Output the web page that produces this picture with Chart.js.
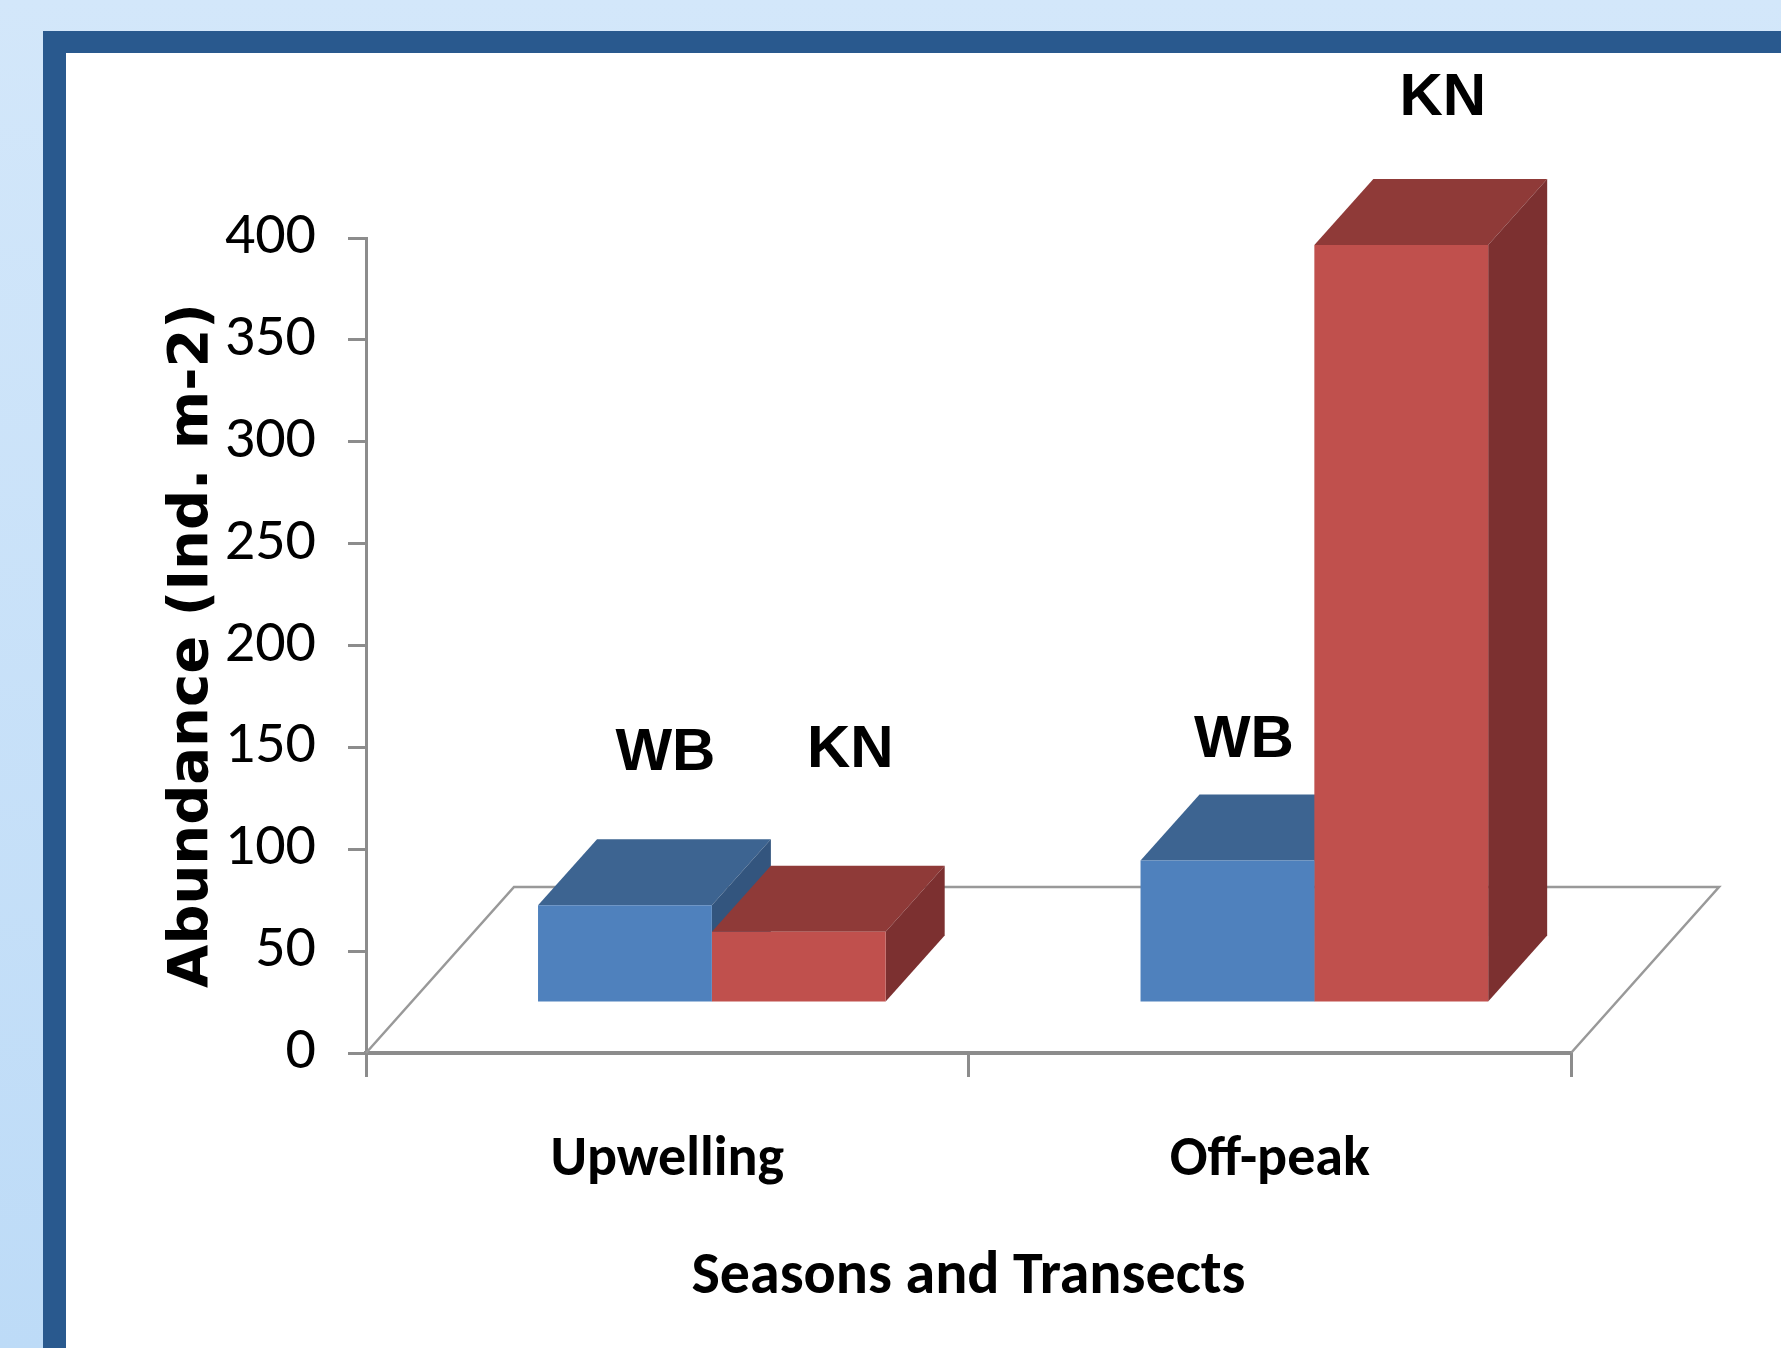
<!DOCTYPE html>
<html>
<head>
<meta charset="utf-8">
<script src="https://cdn.jsdelivr.net/npm/chart.js@4.4.1/dist/chart.umd.min.js"></script>
<style>
  html, body { margin: 0; padding: 0; background: #fff; }
  #wrap { position: relative; width: 1781px; height: 1348px; }
</style>
</head>
<body>
<div id="wrap"><canvas id="chart"></canvas></div>
<script>
// Abundance per season, one series per transect
const seasons = ['Upwelling', 'Off-peak'];
const transects = ['WB', 'KN'];
const wbValues = [48, 70];
const knValues = [35, 372];

// front / top / side shades of each box
const faceColors = {
  WB: { front: '#4f81bd', top: '#3d6491', side: '#33557e' },
  KN: { front: '#c0504d', top: '#8f3a38', side: '#7c3030' }
};

// oblique projection: floor depth, how far the boxes sit back, box depth
const FLOOR_DEPTH = { x: 148, y: -166 };
const BAR_SHIFT = { x: 44.6, y: -50 };
const BAR_DEPTH = { x: 59, y: -66 };

// series names float above the boxes, hand-placed a little
const NAME_GAP = 65;
const nameNudge = {
  WB: [[11, -4], [-13, 28]],
  KN: [[22, -34], [12, 1]]
};

const narrow = "Carlito, 'Liberation Sans Narrow', 'DejaVu Sans Condensed', sans-serif";
const AXIS_GREY = '#8c8c8c';

function fillPoly(ctx, pts, color) {
  ctx.fillStyle = color;
  ctx.beginPath();
  ctx.moveTo(pts[0][0], pts[0][1]);
  for (let i = 1; i < pts.length; i++) ctx.lineTo(pts[i][0], pts[i][1]);
  ctx.closePath();
  ctx.fill();
}

const boxes3d = {
  id: 'boxes3d',
  beforeDraw(chart) {
    const { ctx, width, height } = chart;
    ctx.save();
    const g = ctx.createLinearGradient(0, 0, 0, height);
    g.addColorStop(0, '#d3e7fa');
    g.addColorStop(1, '#bddbf7');
    ctx.fillStyle = g;
    ctx.fillRect(0, 0, width, height);
    ctx.fillStyle = '#29598e';
    ctx.fillRect(43, 31, width - 43, height - 31);
    ctx.fillStyle = '#ffffff';
    ctx.fillRect(66, 53, width - 66, height - 53);
    ctx.restore();
  },
  beforeDatasetsDraw(chart) {
    const { ctx, chartArea: a } = chart;
    // floor outline behind the boxes
    ctx.save();
    ctx.strokeStyle = '#999999';
    ctx.lineWidth = 2.5;
    ctx.beginPath();
    ctx.moveTo(a.left, a.bottom);
    ctx.lineTo(a.left + FLOOR_DEPTH.x, a.bottom + FLOOR_DEPTH.y);
    ctx.lineTo(a.right + FLOOR_DEPTH.x, a.bottom + FLOOR_DEPTH.y);
    ctx.lineTo(a.right, a.bottom);
    ctx.stroke();
    ctx.restore();

    // push everything back into the scene; fronts are drawn by Chart.js afterwards
    ctx.save();
    ctx.translate(BAR_SHIFT.x, BAR_SHIFT.y);
    const list = [];
    chart.data.datasets.forEach((ds, i) => {
      chart.getDatasetMeta(i).data.forEach(bar => list.push({ bar, colors: faceColors[ds.label] }));
    });
    // left to right so a nearer box covers the side of the one before it
    list.sort((p, q) => p.bar.x - q.bar.x);
    list.forEach(({ bar, colors }) => {
      const { x, y, base, width } = bar.getProps(['x', 'y', 'base', 'width'], true);
      const l = x - width / 2, r = x + width / 2;
      const dx = BAR_DEPTH.x, dy = BAR_DEPTH.y;
      fillPoly(ctx, [[l, y], [r, y], [r + dx, y + dy], [l + dx, y + dy]], colors.top);
      fillPoly(ctx, [[r, y], [r + dx, y + dy], [r + dx, base + dy], [r, base]], colors.side);
    });
  },
  afterDatasetsDraw(chart) {
    const { ctx } = chart;
    ctx.restore();

    ctx.save();
    ctx.fillStyle = '#000';
    ctx.font = "bold 60px 'Liberation Sans', Arial, sans-serif";
    ctx.textAlign = 'center';
    ctx.textBaseline = 'alphabetic';
    chart.data.datasets.forEach((ds, i) => {
      chart.getDatasetMeta(i).data.forEach((bar, j) => {
        const { x, y } = bar.getProps(['x', 'y'], true);
        const [nx, ny] = nameNudge[ds.label][j];
        const cx = x + BAR_SHIFT.x + BAR_DEPTH.x / 2 + nx;
        const by = y + BAR_SHIFT.y + BAR_DEPTH.y - NAME_GAP + ny;
        ctx.fillText(ds.label, cx, by);
      });
    });
    ctx.restore();
  }
};

new Chart(document.getElementById('chart'), {
  type: 'bar',
  data: {
    labels: seasons,
    datasets: [
      { label: transects[0], data: wbValues, backgroundColor: faceColors.WB.front, borderWidth: 0, clip: false },
      { label: transects[1], data: knValues, backgroundColor: faceColors.KN.front, borderWidth: 0, clip: false }
    ]
  },
  options: {
    responsive: true,
    maintainAspectRatio: false,
    animation: false,
    layout: { padding: { left: 0, top: 238, right: 210, bottom: 0 } },
    datasets: { bar: { categoryPercentage: 0.577, barPercentage: 1 } },
    plugins: {
      legend: { display: false },
      tooltip: { enabled: false }
    },
    scales: {
      x: {
        grid: { drawOnChartArea: false, drawTicks: true, tickLength: 24, color: AXIS_GREY, lineWidth: 3, offset: true },
        border: { color: AXIS_GREY, width: 4 },
        ticks: { color: '#000', padding: 50, font: { family: narrow, size: 56, weight: 'bold' } },
        title: {
          display: true,
          text: 'Seasons and Transects',
          color: '#000',
          font: { family: narrow, size: 60, weight: 'bold' },
          padding: { top: 0, bottom: 34 }
        },
        afterFit(scale) { scale.height = 295; }
      },
      y: {
        min: 0,
        max: 400,
        ticks: { stepSize: 50, color: '#000', padding: 32, font: { family: narrow, size: 60 } },
        grid: { drawOnChartArea: false, drawTicks: true, tickLength: 18, color: AXIS_GREY, lineWidth: 3 },
        border: { color: AXIS_GREY, width: 3 },
        title: {
          display: true,
          text: 'Abundance (Ind. m-2)',
          color: '#000',
          font: { family: "'DejaVu Sans', Verdana, sans-serif", size: 56, weight: 'bold' },
          padding: { top: 159, bottom: 0 }
        },
        afterFit(scale) { scale.width = 366; }
      }
    }
  },
  plugins: [boxes3d]
});
</script>
</body>
</html>
